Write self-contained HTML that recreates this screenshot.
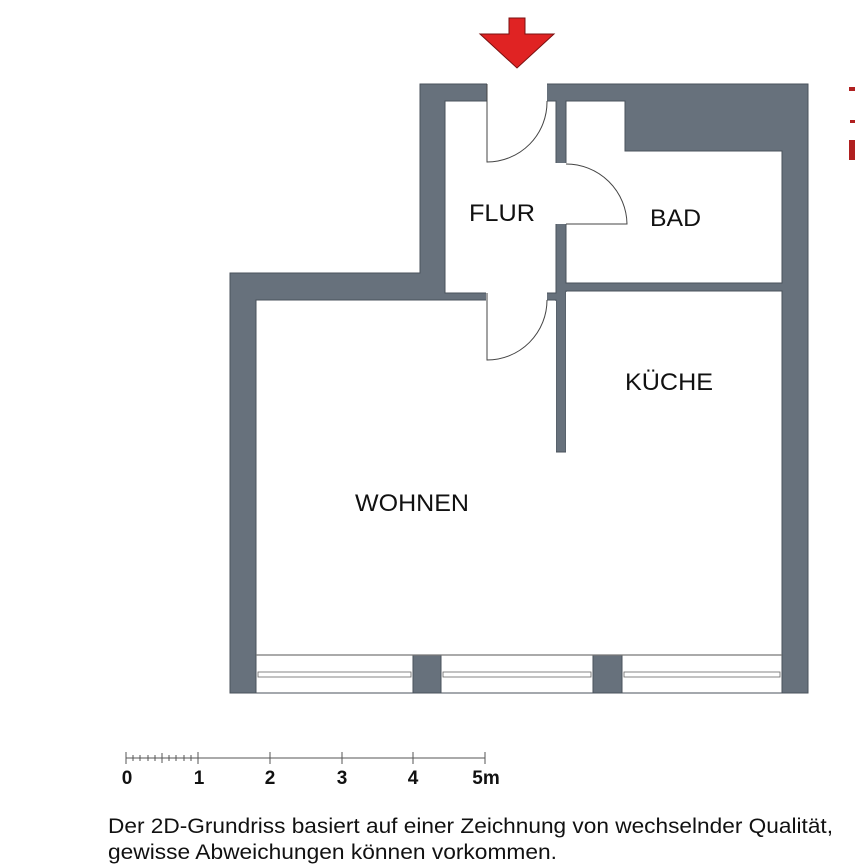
<!DOCTYPE html>
<html><head><meta charset="utf-8"><style>
html,body{margin:0;padding:0;background:#fff;}
svg{display:block;}
text{font-family:"Liberation Sans",sans-serif;}
</style></head><body>
<svg width="855" height="866" viewBox="0 0 855 866" xmlns="http://www.w3.org/2000/svg">
<rect width="855" height="866" fill="#fff"/>
<polygon points="509,18 525,18 525,34 554,34 517,68 480,34 509,34" fill="#e02323" stroke="#7a1010" stroke-width="1"/>
<polygon points="420,84 808,84 808,693 230,693 230,273 420,273" fill="#67717c" stroke="#4a525b" stroke-width="1"/>
<g fill="#fff" stroke="#4a525b" stroke-width="1">
<rect x="445" y="101" width="111" height="192"/>
<polygon points="566,101 625,101 625,151 782,151 782,283 566,283"/>
<polygon points="256,300 556,300 556,452 566,452 566,291 782,291 782,655 256,655"/>
<rect x="256" y="655" width="526" height="38"/>
</g>
<g fill="#fff">
<rect x="487" y="83" width="60" height="19"/>
<rect x="486" y="292" width="61" height="9"/>
<rect x="555" y="163" width="12" height="61"/>
<rect x="446" y="102" width="109" height="190"/>
<rect x="257" y="301" width="299" height="354"/>
<rect x="566" y="292" width="215" height="362"/>
</g>
<rect x="413" y="655" width="28" height="38" fill="#67717c" stroke="#4a525b"/>
<rect x="593" y="655" width="29" height="38" fill="#67717c" stroke="#4a525b"/>
<line x1="256" y1="655" x2="782" y2="655" stroke="#777" stroke-width="1.2"/>
<g fill="none" stroke="#666" stroke-width="0.8">
<rect x="258" y="672" width="153" height="5"/>
<rect x="443" y="672" width="148" height="5"/>
<rect x="624" y="672" width="156" height="5"/>
</g>
<g fill="none" stroke="#444" stroke-width="1">
<path d="M487,84 L487,162 A60,60 0 0 0 547,101"/>
<path d="M566,164 A61,61 0 0 1 627,224 L566,224"/>
<path d="M487,293 L487,360 A60,60 0 0 0 547,300"/>
</g>
<g font-size="24.5" fill="#111">
<text x="469" y="221" textLength="66" lengthAdjust="spacingAndGlyphs">FLUR</text>
<text x="650" y="226" textLength="51" lengthAdjust="spacingAndGlyphs">BAD</text>
<text x="625" y="390" textLength="88" lengthAdjust="spacingAndGlyphs">KÜCHE</text>
<text x="355" y="511" textLength="114" lengthAdjust="spacingAndGlyphs">WOHNEN</text>
</g>
<g fill="#b02020">
<rect x="849" y="87" width="6" height="4"/>
<rect x="850" y="120" width="5" height="3"/>
<rect x="849" y="140" width="6" height="20"/>
</g>
<g stroke="#555" stroke-width="1">
<line x1="126" y1="758" x2="485" y2="758"/>
<line x1="126" y1="752" x2="126" y2="764"/>
<line x1="198" y1="752" x2="198" y2="764"/>
<line x1="270" y1="752" x2="270" y2="764"/>
<line x1="342" y1="752" x2="342" y2="764"/>
<line x1="413" y1="752" x2="413" y2="764"/>
<line x1="485" y1="752" x2="485" y2="764"/>
<line x1="133" y1="755" x2="133" y2="761"/>
<line x1="140" y1="755" x2="140" y2="761"/>
<line x1="148" y1="755" x2="148" y2="761"/>
<line x1="155" y1="755" x2="155" y2="761"/>
<line x1="162" y1="753" x2="162" y2="763"/>
<line x1="169" y1="755" x2="169" y2="761"/>
<line x1="176" y1="755" x2="176" y2="761"/>
<line x1="184" y1="755" x2="184" y2="761"/>
<line x1="191" y1="755" x2="191" y2="761"/>
</g>
<g font-size="19" font-weight="bold" fill="#111" text-anchor="middle">
<text x="127" y="784">0</text>
<text x="199" y="784">1</text>
<text x="270" y="784">2</text>
<text x="342" y="784">3</text>
<text x="413" y="784">4</text>
<text x="486" y="784">5m</text>
</g>
<g font-size="21" fill="#111">
<text x="108" y="833" textLength="725" lengthAdjust="spacingAndGlyphs">Der 2D-Grundriss basiert auf einer Zeichnung von wechselnder Qualität,</text>
<text x="108" y="859" textLength="449" lengthAdjust="spacingAndGlyphs">gewisse Abweichungen können vorkommen.</text>
</g>
</svg>
</body></html>
